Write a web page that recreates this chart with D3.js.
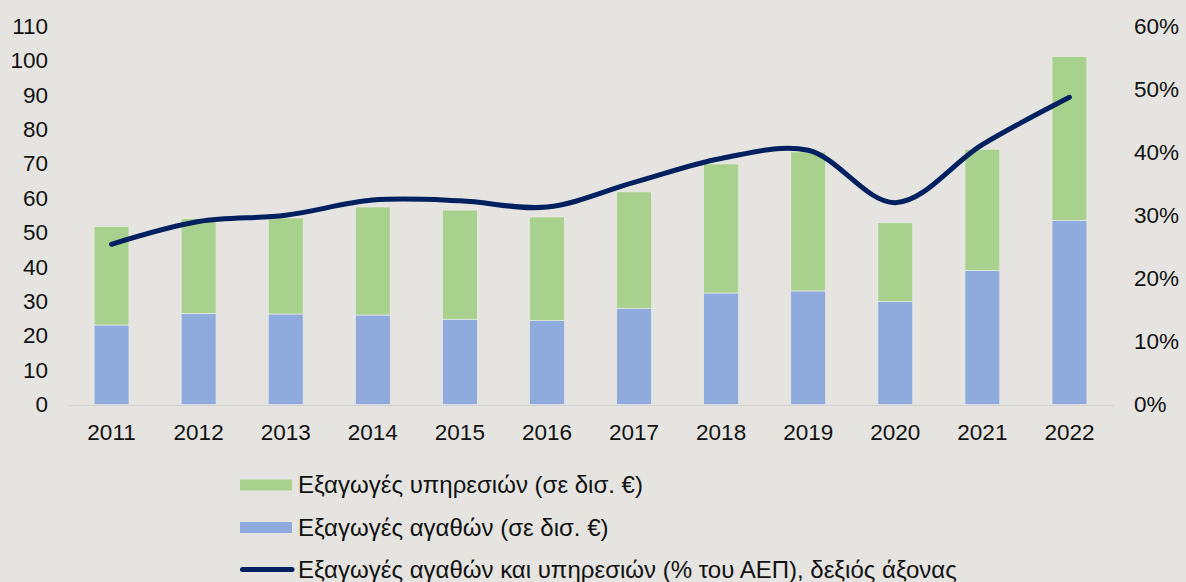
<!DOCTYPE html>
<html>
<head>
<meta charset="utf-8">
<script src="https://cdn.jsdelivr.net/npm/d3@7"></script>
<style>
  html, body { margin: 0; padding: 0; background: #e5e4e0; }
  svg { display: block; font-family: "Liberation Sans", Arial, sans-serif; }
  .tick text { fill: #111; font-size: 22.5px; }
  .legend text { fill: #111; font-size: 24px; }
</style>
</head>
<body>
<svg id="chart" width="1186" height="582"></svg>
<script>
const years = ["2011", "2012", "2013", "2014", "2015", "2016", "2017", "2018", "2019", "2020", "2021", "2022"];
const goods = [23.1, 26.5, 26.3, 26.0, 24.8, 24.4, 28.0, 32.4, 33.0, 29.9, 39.0, 53.5];
const services = [28.6, 27.5, 27.9, 31.4, 31.7, 30.1, 33.8, 37.5, 40.4, 22.9, 35.2, 47.6];
const gdpShare = [25.4, 29.0, 30.0, 32.4, 32.3, 31.3, 35.2, 39.0, 40.3, 32.0, 41.2, 48.7];
const leftTicks = [0, 10, 20, 30, 40, 50, 60, 70, 80, 90, 100, 110];
const rightTicks = [0, 10, 20, 30, 40, 50, 60];
const legendLabels = [
  "Εξαγωγές υπηρεσιών (σε δισ. €)",
  "Εξαγωγές αγαθών (σε δισ. €)",
  "Εξαγωγές αγαθών και υπηρεσιών (% του ΑΕΠ), δεξιός άξονας"
];

const GREEN = "#a9d18e", BLUE = "#8faadc", NAVY = "#002060";

var svg = d3.select("#chart");

var x = d3.scaleBand().domain(years).range([68, 1113]).paddingInner(0.6).paddingOuter(0.3);
var y = d3.scaleLinear().domain([0, 110]).range([404.5, 26]);
var y2 = d3.scaleLinear().domain([0, 60]).range([404.5, 26]);

// axes
var leftAxis = svg.append("g")
  .attr("transform", "translate(48,0)")
  .call(d3.axisLeft(y).tickValues(leftTicks).tickSize(0).tickPadding(0));
leftAxis.select(".domain").remove();

var rightAxis = svg.append("g")
  .attr("transform", "translate(1134,0)")
  .call(d3.axisRight(y2).tickValues(rightTicks).tickSize(0).tickPadding(0).tickFormat(d => d + "%"));
rightAxis.select(".domain").remove();

var xAxis = svg.append("g")
  .attr("transform", "translate(0,405)")
  .call(d3.axisBottom(x).tickSize(0).tickPadding(19));
xAxis.select(".domain").attr("stroke", "#d6d5d1").attr("stroke-width", 1.5);

// stacked bars
var rows = years.map((yr, i) => ({ year: yr, goods: goods[i], services: services[i] }));
var stack = d3.stack().keys(["goods", "services"])(rows);
var colors = { goods: BLUE, services: GREEN };

svg.selectAll("g.layer")
  .data(stack)
  .enter()
  .append("g")
  .attr("class", "layer")
  .attr("fill", d => colors[d.key])
  .selectAll("rect")
  .data(d => d)
  .enter()
  .append("rect")
  .attr("x", d => x(d.data.year))
  .attr("width", x.bandwidth())
  .attr("y", d => y(d[1]))
  .attr("height", d => y(d[0]) - y(d[1]))
  .attr("stroke", "#eeeeea")
  .attr("stroke-width", 0.6);

// smoothed line on the right axis
var line = d3.line()
  .x((d, i) => x(years[i]) + x.bandwidth() / 2)
  .y(d => y2(d))
  .curve(d3.curveCatmullRom.alpha(0.5));

svg.append("path")
  .datum(gdpShare)
  .attr("d", line)
  .attr("fill", "none")
  .attr("stroke", NAVY)
  .attr("stroke-width", 5)
  .attr("stroke-linecap", "round");

// legend
var legend = svg.append("g").attr("class", "legend");
var legendY = [485, 527.5, 569.5];

legendLabels.forEach((lab, i) => {
  var g = legend.append("g").attr("transform", `translate(240,${legendY[i]})`);
  if (i < 2) {
    g.append("rect").attr("x", 0).attr("y", -5.5).attr("width", 52).attr("height", 11)
      .attr("fill", i == 0 ? GREEN : BLUE);
  } else {
    g.append("line").attr("x1", 2.5).attr("x2", 52).attr("y1", 0).attr("y2", 0)
      .attr("stroke", NAVY).attr("stroke-width", 5).attr("stroke-linecap", "round");
  }
  g.append("text").attr("x", 58).attr("y", 0).attr("dy", "0.35em").text(lab);
});
</script>
</body>
</html>
